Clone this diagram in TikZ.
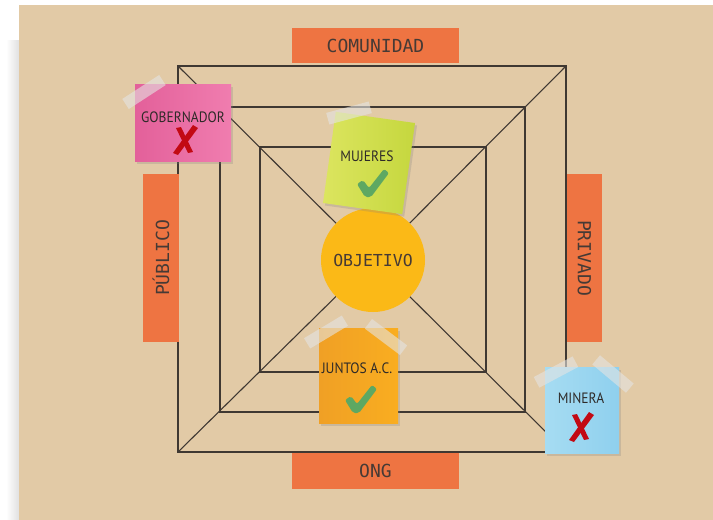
\documentclass[tikz,border=0pt]{standalone}
\usepackage{fontspec}
\usetikzlibrary{shadows}
\newfontfamily\labfont{DejaVu Sans Mono}
\newfontfamily\notefont[FakeStretch=0.9]{PT Sans}
\definecolor{board}{HTML}{E2CAA6}
\definecolor{linec}{HTML}{3F3832}
\definecolor{orangebox}{HTML}{EE7442}
\definecolor{labtext}{HTML}{463A35}
\definecolor{notetextc}{HTML}{2E2A28}
\definecolor{pinka}{HTML}{E3609A}
\definecolor{pinkb}{HTML}{F07DAF}
\definecolor{greena}{HTML}{DCE55F}
\definecolor{greenb}{HTML}{C5D73E}
\definecolor{oranga}{HTML}{F0A025}
\definecolor{orangb}{HTML}{F9AD20}
\definecolor{bluea}{HTML}{A6DCF2}
\definecolor{blueb}{HTML}{8FD0EE}
\definecolor{sunc}{HTML}{FBB917}
\definecolor{checkc}{HTML}{5EA862}
\definecolor{crossc}{HTML}{C20A14}
\definecolor{tapec}{HTML}{E4E4E2}
\tikzset{
  frame/.style={draw=linec, line width=1.1pt},
  labbox/.style={fill=orangebox, inner sep=0pt, font=\labfont\fontsize{18}{18}\selectfont, text=labtext},
  note/.style={inner sep=0pt, drop shadow={opacity=0.25, shadow xshift=2pt, shadow yshift=-2.5pt}},
  notetext/.style={font=\notefont\fontsize{15}{15}\selectfont, text=notetextc, inner sep=0pt},
  tape/.style={fill=tapec, fill opacity=0.6, inner sep=0pt, minimum width=44pt, minimum height=12pt},
  checkmark/.pic={\fill[checkc, rounded corners=2pt] (-15,1) -- (-9,-3) -- (-3,5) -- (12,-14) -- (17,-10) -- (-1,14) -- (-7,14) -- cycle;},
  crossmark/.pic={\fill[crossc] (8,-15) -- (13,-12) -- (-7,15) -- (-12,13) -- cycle;
                  \fill[crossc] (-9,-12) -- (-4,-13) -- (8,12) -- (3,13) -- cycle;}
}
\begin{document}
\begin{tikzpicture}[x=1pt,y=-1pt]
\useasboundingbox (0,0) rectangle (713,520);
\fill[white] (0,0) rectangle (713,520);
\shade[left color=white, right color=black!12] (6,40) rectangle (19,520);
\fill[board] (19,5) rectangle (713,520);
% squares
\coordinate (o1) at (178,66);  \coordinate (o3) at (566,452);
\coordinate (o2) at (566,66);  \coordinate (o4) at (178,452);
\coordinate (m1) at (220,107); \coordinate (m3) at (525,412);
\coordinate (i1) at (260,147); \coordinate (i3) at (486,372);
\coordinate (c) at (373,260);
\draw[frame] (o1) rectangle (o3);
\draw[frame] (m1) rectangle (m3);
\draw[frame] (i1) rectangle (i3);
\draw[frame] (o1) -- (c) (o2) -- (c) (o3) -- (c) (o4) -- (c);
% center
\node[circle, fill=sunc, minimum size=104pt, inner sep=0pt, font=\labfont\fontsize{16.5}{16.5}\selectfont, text=labtext] (obj) at (c) {OBJETIVO};
% labels
\node[labbox, minimum width=167pt, minimum height=35pt] (com) at (375.5,45.5) {COMUNIDAD};
\node[labbox, minimum width=167pt, minimum height=36pt] (ong) at (375.5,471) {ONG};
\node[labbox, minimum width=168pt, minimum height=36pt, rotate=90] (pub) at (161,258) {PÚBLICO};
\node[labbox, minimum width=168pt, minimum height=35pt, rotate=-90] (pri) at (584.5,258) {PRIVADO};
% GOBERNADOR
\node[note, left color=pinka, right color=pinkb, minimum width=96pt, minimum height=77pt] (gob) at (183,122.5) {};
\node[tape, rotate=33] (gobt) at (144,92) {};
\node[notetext] (gobl) at (183,117) {GOBERNADOR};
\pic at (185,140) {crossmark};
% MUJERES
\node[note, left color=greena, right color=greenb, minimum width=80pt, minimum height=92pt, rotate=-8] (muj) at (369,163) {};
\node[tape, rotate=15] (mujt) at (349,113) {};
\node[notetext] (mujl) at (367,156) {MUJERES};
\pic at (372,183) {checkmark};
% JUNTOS
\node[note, left color=oranga, right color=orangb, minimum width=79pt, minimum height=95pt] (jun) at (358.5,375.5) {};
\node[tape, rotate=31] (junt1) at (326,332) {};
\node[tape, rotate=-37] (junt2) at (386,337) {};
\node[notetext] (junl) at (357,368) {JUNTOS A.C.};
\pic at (360,399) {checkmark};
% MINERA
\node[note, left color=bluea, right color=blueb, minimum width=74pt, minimum height=86pt] (min) at (582,410) {};
\node[tape, rotate=28] (mint1) at (556,372) {};
\node[tape, rotate=-40] (mint2) at (613,374) {};
\node[notetext] (minl) at (581,398) {MINERA};
\pic at (581,427) {crossmark};
\end{tikzpicture}
\end{document}
